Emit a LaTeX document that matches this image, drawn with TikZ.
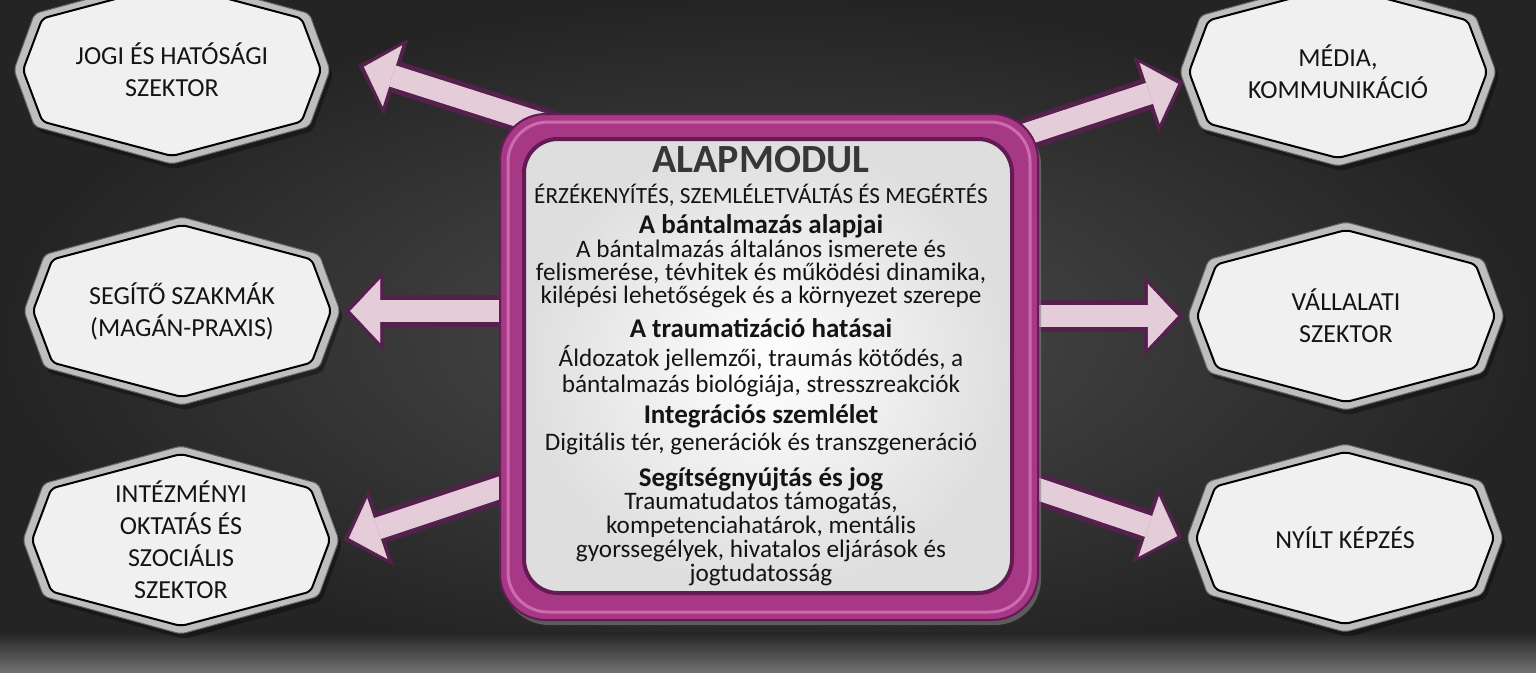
\documentclass[tikz,border=0pt]{standalone}
\usepackage{fontspec}
\setmainfont{Carlito}
\usetikzlibrary{arrows.meta,shadows}
\definecolor{bgdark}{RGB}{36,36,36}
\definecolor{bgmid}{RGB}{76,76,76}
\definecolor{bglight}{RGB}{112,112,112}
\definecolor{framemag}{RGB}{166,56,133}
\definecolor{framedark}{RGB}{100,26,82}
\definecolor{framelight}{RGB}{207,106,174}
\definecolor{panelgray}{RGB}{222,222,222}
\definecolor{armdark}{RGB}{84,32,76}
\definecolor{armpink}{RGB}{228,204,217}
\definecolor{silver}{RGB}{190,190,190}
\definecolor{sekpanel}{RGB}{240,240,240}
\definecolor{txt}{RGB}{20,20,20}
\definecolor{titlegray}{RGB}{55,55,55}
\pgfdeclarelayer{bg}
\pgfdeclarelayer{arr}
\pgfdeclarelayer{sek}
\pgfsetlayers{bg,arr,sek,main}
\newcommand\sektorpoly[2]{(0,-#2) -- ({0.87*#1},{-0.6*#2}) -- (#1,0) -- ({0.87*#1},{0.6*#2}) -- (0,#2) -- ({-0.87*#1},{0.6*#2}) -- (-#1,0) -- ({-0.87*#1},{-0.6*#2}) -- cycle}

\begin{document}
\begin{tikzpicture}[x=1pt, y=-1pt,
    sektor/.style={minimum width=324pt, minimum height=196pt, inner sep=0pt, align=center,
      font=\fontsize{26}{32}\selectfont, text=txt},
    frame/.style={minimum width=538pt, minimum height=506pt, rounded corners=46pt,
      fill=framemag, draw=framedark, line width=2pt,
      drop shadow={opacity=0.6, shadow xshift=3pt, shadow yshift=-5pt}},
    ttl/.style={anchor=base, inner sep=0pt, font=\bfseries\fontsize{40}{40}\selectfont, text=titlegray},
    sub/.style={anchor=base, inner sep=0pt, font=\fontsize{23.2}{23}\selectfont, text=txt},
    hd/.style={anchor=base, inner sep=0pt, font=\bfseries\fontsize{27}{27}\selectfont, text=txt},
    bd/.style={anchor=base, inner sep=0pt, font=\fontsize{25.2}{24}\selectfont, text=txt},
    armout/.style={line width=32pt, draw=armdark, -{Triangle[length=40pt, width=80pt, line width=0.4pt]}},
    armin/.style={line width=22pt, draw=armpink, shorten >=6pt, -{Triangle[length=30pt, width=64pt, line width=0.4pt]}}]

    \useasboundingbox (0,0) rectangle (1536,672);

    % Background
    \begin{pgfonlayer}{bg}
        \fill[bgdark] (0,0) rectangle (1536,672);
        \shade[inner color=bgmid, outer color=bgdark] (0,0) rectangle (1536,672);
        \shade[top color=bgdark, bottom color=bglight] (0,632) rectangle (1536,672);
    \end{pgfonlayer}

    % Central module
    \node[frame] (modul) at (769,367) {};
    \draw[framelight, line width=3pt, rounded corners=40pt] ([shift={(9,9)}]modul.north west) rectangle ([shift={(-9,-9)}]modul.south east);
    \shadedraw[draw=framedark, line width=4pt, rounded corners=34pt, inner color=white, outer color=panelgray]
        ([shift={(25,26)}]modul.north west) rectangle ([shift={(-27,-28)}]modul.south east);

    \node[ttl] (title) at (761,172) {ALAPMODUL};
    \node[sub] (subtitle) at (761,203) {ÉRZÉKENYÍTÉS, SZEMLÉLETVÁLTÁS ÉS MEGÉRTÉS};
    \node[hd] (h1) at (761,233) {A bántalmazás alapjai};
    \node[bd] (b11) at (761,257) {A bántalmazás általános ismerete és};
    \node[bd] (b12) at (761,280) {felismerése, tévhitek és működési dinamika,};
    \node[bd] (b13) at (761,303) {kilépési lehetőségek és a környezet szerepe};
    \node[hd] (h2) at (761,337) {A traumatizáció hatásai};
    \node[bd] (b21) at (761,366) {Áldozatok jellemzői, traumás kötődés, a};
    \node[bd] (b22) at (761,392) {bántalmazás biológiája, stresszreakciók};
    \node[hd] (h3) at (761,423) {Integrációs szemlélet};
    \node[bd] (b31) at (761,450) {Digitális tér, generációk és transzgeneráció};
    \node[hd] (h4) at (761,486) {Segítségnyújtás és jog};
    \node[bd] (b41) at (761,509) {Traumatudatos támogatás,};
    \node[bd] (b42) at (761,533) {kompetenciahatárok, mentális};
    \node[bd] (b43) at (761,557) {gyorssegélyek, hivatalos eljárások és};
    \node[bd] (b44) at (761,581) {jogtudatosság};

    % Sectors
    \node[sektor] (jogi) at (172,70) {JOGI ÉS HATÓSÁGI\\SZEKTOR};
    \node[sektor] (segito) at (182,311) {SEGÍTŐ SZAKMÁK\\(MAGÁN-PRAXIS)};
    \node[sektor] (intezmeny) at (181,540) {INTÉZMÉNYI\\OKTATÁS ÉS\\SZOCIÁLIS\\SZEKTOR};
    \node[sektor] (media) at (1338,72) {MÉDIA,\\KOMMUNIKÁCIÓ};
    \node[sektor] (vallalati) at (1346,316) {VÁLLALATI\\SZEKTOR};
    \node[sektor] (nyilt) at (1345,538) {NYÍLT KÉPZÉS};

    \begin{pgfonlayer}{sek}
        \foreach \n in {jogi, segito, intezmeny, media, vallalati, nyilt} {
            \begin{scope}[shift={(\n.center)}, rounded corners=5pt]
                \fill[black, opacity=0.35] [shift={(3,5)}] \sektorpoly{158}{94};
                \fill[silver] \sektorpoly{158}{94};
                \draw[black!60, line width=1pt] \sektorpoly{158}{94};
                \fill[sekpanel] \sektorpoly{149}{86};
                \draw[black, line width=2pt] \sektorpoly{149}{86};
            \end{scope}
        }
    \end{pgfonlayer}

    % Arrows
    \begin{pgfonlayer}{arr}
        \foreach \st in {armout, armin} {
            \draw[\st] ([shift={(60,16)}]modul.north west) -- ([shift={(24,-5)}]jogi.east);
            \draw[\st] ([shift={(30,-56)}]modul.west) -- (segito.east);
            \draw[\st] ([shift={(30,111)}]modul.west) -- (intezmeny.east);
            \draw[\st] ([shift={(-58,36)}]modul.north east) -- ([shift={(8,10)}]media.west);
            \draw[\st] ([shift={(-30,-51)}]modul.east) -- (vallalati.west);
            \draw[\st] ([shift={(-28,113)}]modul.east) -- (nyilt.west);
        }
    \end{pgfonlayer}
\end{tikzpicture}
\end{document}
